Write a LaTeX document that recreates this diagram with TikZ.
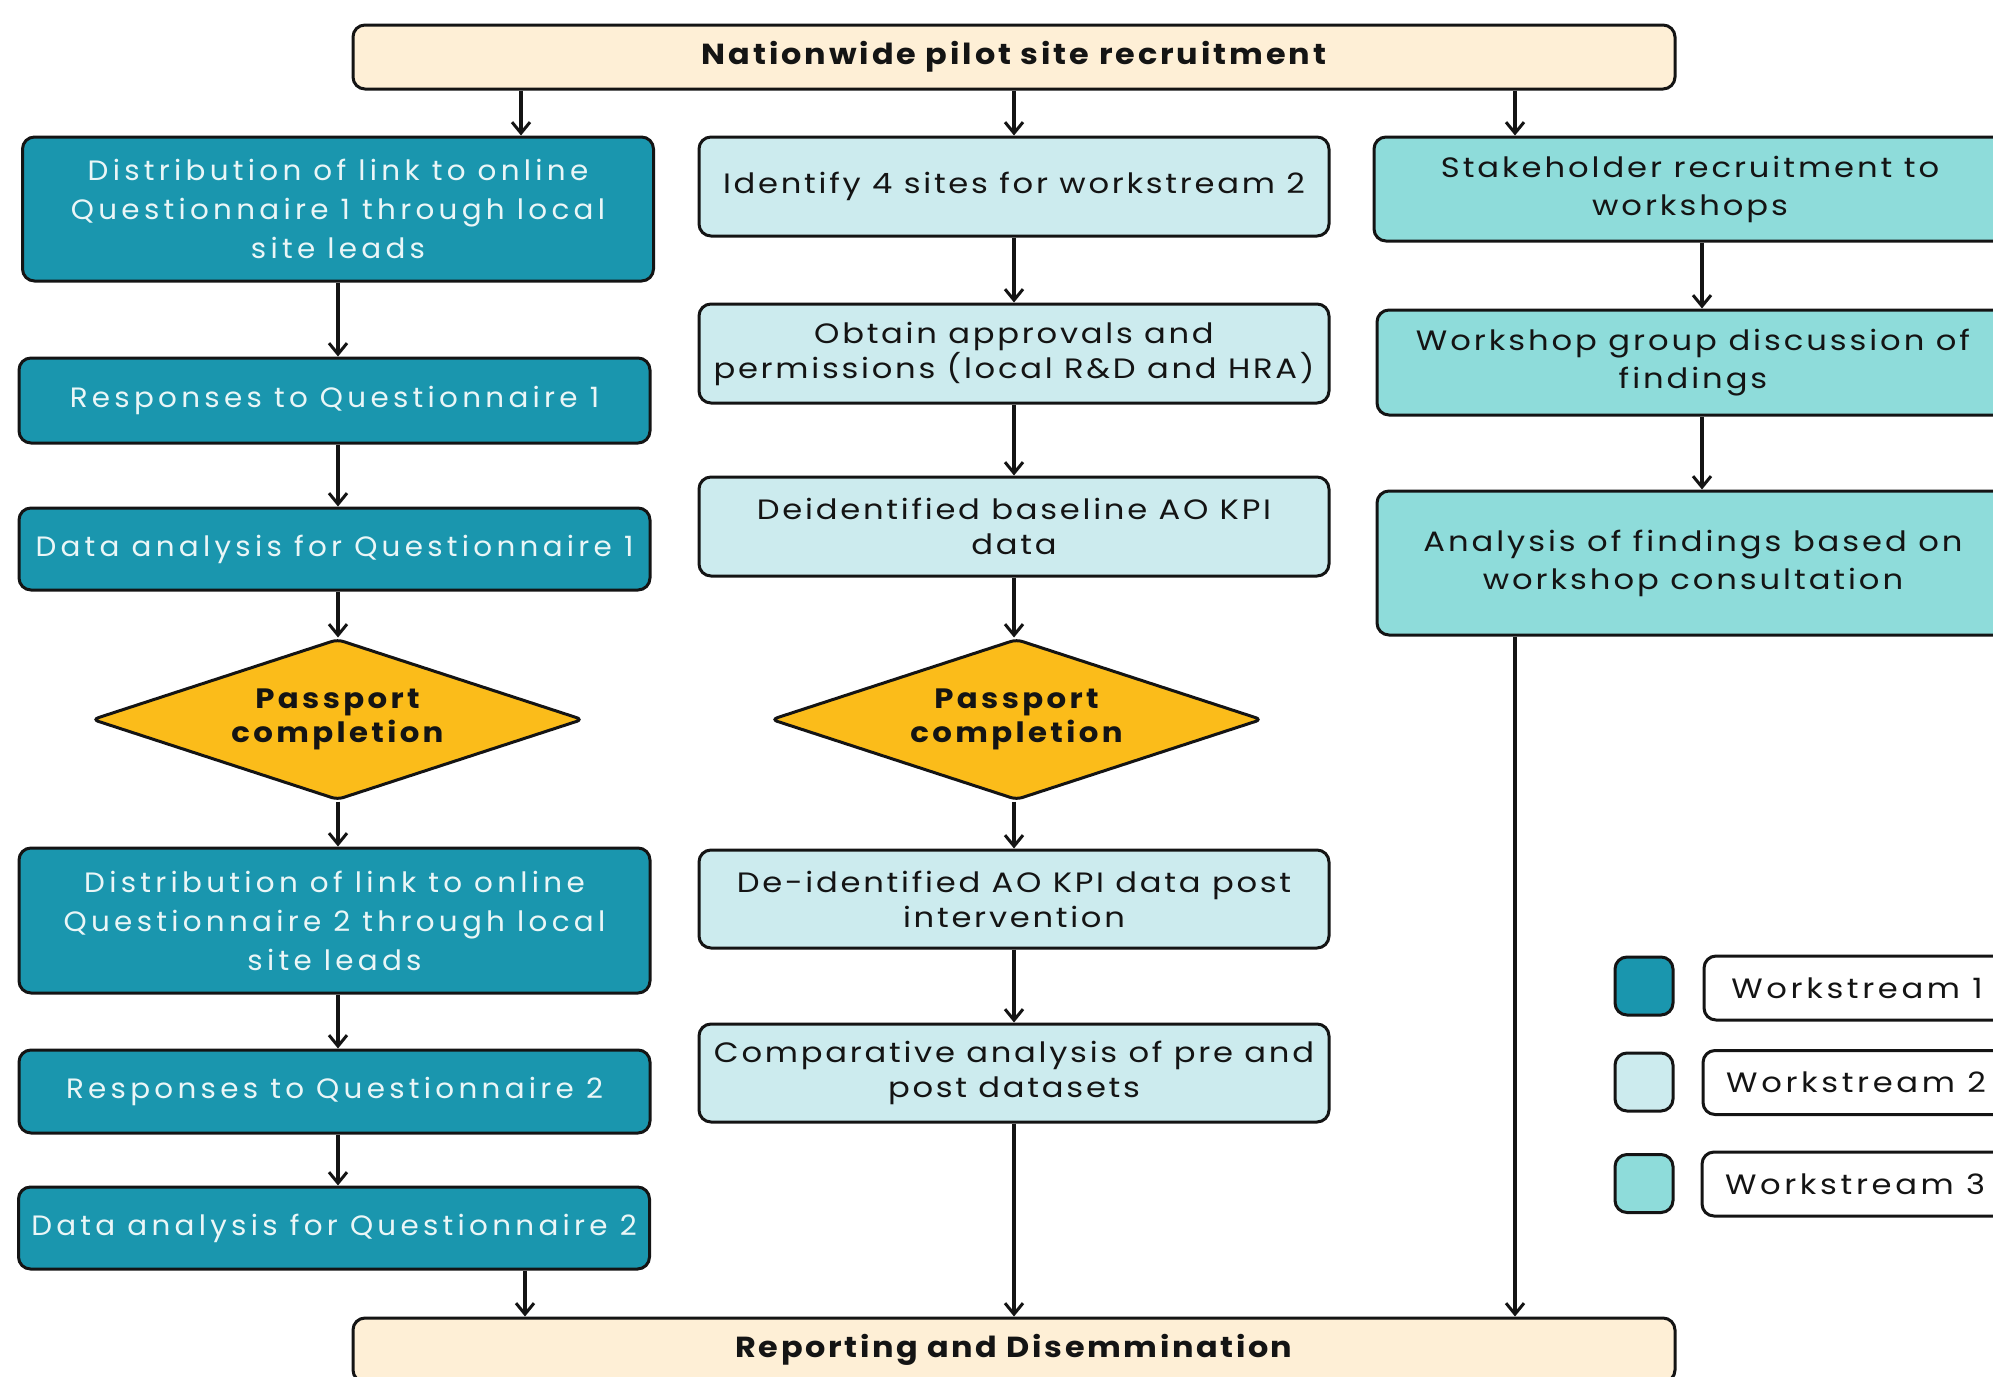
\documentclass[tikz,border=0pt]{standalone}
\usepackage{fontspec}
\setmainfont{Poppins}
\newfontfamily\wsafont[LetterSpace=15.3,FakeStretch=1.05]{Poppins}
\newfontfamily\wsbfont[LetterSpace=9.8,FakeStretch=1.15]{Poppins}
\newfontfamily\wscfont[LetterSpace=10.5,FakeStretch=1.15]{Poppins}
\newfontfamily\legfont[LetterSpace=13,FakeStretch=1.15]{Poppins}
\newfontfamily\hdfont[LetterSpace=10,FakeStretch=1.1]{Poppins}
\newfontfamily\btfont[LetterSpace=9,FakeStretch=1.1]{Poppins}
\newfontfamily\dcfont[LetterSpace=12,FakeStretch=1.1]{Poppins}
\usetikzlibrary{arrows.meta,shapes.geometric}
\definecolor{wsone}{HTML}{1A96AE}
\definecolor{wstwo}{HTML}{CCEBEE}
\definecolor{wsthree}{HTML}{8EDCDA}
\definecolor{cream}{HTML}{FEEFD6}
\definecolor{amber}{HTML}{FBBC1A}
\definecolor{edge}{HTML}{141414}
\definecolor{wtext}{HTML}{EAF6F7}
\tikzset{
  box/.style={draw=edge, line width=3pt, rounded corners=12pt, align=center, inner sep=0pt},
  wsonebox/.style={box, fill=wsone, text=wtext, minimum width=631pt, font=\wsafont\fontsize{28}{39}\selectfont},
  wstwobox/.style={box, fill=wstwo, text=edge, minimum width=630pt, minimum height=99pt, font=\wsbfont\fontsize{28}{35}\selectfont},
  wsthreebox/.style={box, fill=wsthree, text=edge, minimum width=632pt, font=\wscfont\fontsize{28}{38}\selectfont},
  endbox/.style={box, fill=cream, text=edge, minimum width=1322pt, minimum height=64pt},
  hdtext/.style={font=\hdfont\bfseries\fontsize{29}{33}\selectfont},
  bttext/.style={font=\btfont\bfseries\fontsize{29}{33}\selectfont},
  decbox/.style={draw=edge, line width=3pt, shape=diamond, fill=amber, rounded corners=6pt, inner sep=0pt, minimum width=491pt, minimum height=161pt},
  dectext/.style={align=center, text=edge, font=\dcfont\bfseries\fontsize{28}{34}\selectfont},
  swatch/.style={draw=edge, line width=3pt, rounded corners=12pt, minimum width=58pt, minimum height=58pt, inner sep=0pt},
  legbox/.style={draw=edge, line width=3pt, rounded corners=12pt, fill=white, minimum width=306pt, minimum height=64pt, inner sep=0pt, text=edge, font=\legfont\fontsize{28}{34}\selectfont},
  arr/.style={draw=edge, line width=3.2pt, -{Straight Barb[length=11pt,width=18pt,line width=3pt]}}
}
\begin{document}
\begin{tikzpicture}[x=1pt,y=-1pt]
\useasboundingbox (0,0) rectangle (1993,1376);
% top and bottom
\node[endbox, hdtext] (T) at (1014,57) {Nationwide pilot site recruitment};
\node[endbox, bttext] (B) at (1014,1350) {Reporting and Disemmination};
% workstream 1
\node[wsonebox, minimum height=144pt] (L1) at (338,209) {Distribution of link to online\\Questionnaire 1 through local\\site leads};
\node[wsonebox, minimum height=85pt] (L2) at (334.5,400.5) {Responses to Questionnaire 1};
\node[wsonebox, minimum height=82pt] (L3) at (334.5,549) {Data analysis for Questionnaire 1};
\node[decbox] (D1) at (337.5,719.5) {};
\node[dectext] (D1t) at (D1.center) {Passport\\completion};
\node[wsonebox, minimum height=145pt] (L4) at (334.5,920.5) {Distribution of link to online\\Questionnaire 2 through local\\site leads};
\node[wsonebox, minimum height=83pt] (L5) at (334.5,1091.5) {Responses to Questionnaire 2};
\node[wsonebox, minimum height=82pt] (L6) at (334,1228) {Data analysis for Questionnaire 2};
% workstream 2
\node[wstwobox] (M1) at (1014,186.5) {Identify 4 sites for workstream 2};
\node[wstwobox] (M2) at (1014,353.5) {Obtain approvals and\\permissions (local R\&D and HRA)};
\node[wstwobox] (M3) at (1014,526.5) {Deidentified baseline AO KPI\\data};
\node[decbox] (D2) at (1016.5,719.5) {};
\node[dectext] (D2t) at (D2.center) {Passport\\completion};
\node[wstwobox, minimum height=98pt] (M4) at (1014,899) {De-identified AO KPI data post\\intervention};
\node[wstwobox, minimum height=98pt] (M5) at (1014,1073) {Comparative analysis of pre and\\post datasets};
% workstream 3
\node[wsthreebox, minimum height=104pt] (R1) at (1690,189) {Stakeholder recruitment to\\workshops};
\node[wsthreebox, minimum height=105pt] (R2) at (1693,362.5) {Workshop group discussion of\\findings};
\node[wsthreebox, minimum height=144pt] (R3) at (1693,563) {Analysis of findings based on\\workshop consultation};
% legend
\node[swatch, fill=wsone] (S1) at (1644,986) {};
\node[swatch, fill=wstwo] (S2) at (1644,1082) {};
\node[swatch, fill=wsthree] (S3) at (1644,1183.5) {};
\node[legbox] (K1) at (1857,988) {Workstream 1};
\node[legbox] (K2) at (1856,1082.5) {Workstream 2};
\node[legbox] (K3) at (1855,1184) {Workstream 3};
% connector x positions
\coordinate (xa) at (521,0);
\coordinate (xb) at (1014,0);
\coordinate (xc) at (1515,0);
\coordinate (xd) at (525,0);
\coordinate (xe) at (1702,0);
\coordinate (xl) at (338,0);
% arrows
\draw[arr] (T.south -| xa) -- (L1.north -| xa);
\draw[arr] (T.south -| xb) -- (M1.north -| xb);
\draw[arr] (T.south -| xc) -- (R1.north -| xc);
\draw[arr] (L1.south -| xl) -- (L2.north -| xl);
\draw[arr] (L2.south -| xl) -- (L3.north -| xl);
\draw[arr] (L3.south -| xl) -- (D1.north -| xl);
\draw[arr] (D1.south -| xl) -- (L4.north -| xl);
\draw[arr] (L4.south -| xl) -- (L5.north -| xl);
\draw[arr] (L5.south -| xl) -- (L6.north -| xl);
\draw[arr] (L6.south -| xd) -- (B.north -| xd);
\draw[arr] (M1.south -| xb) -- (M2.north -| xb);
\draw[arr] (M2.south -| xb) -- (M3.north -| xb);
\draw[arr] (M3.south -| xb) -- (D2.north -| xb);
\draw[arr] (D2.south -| xb) -- (M4.north -| xb);
\draw[arr] (M4.south -| xb) -- (M5.north -| xb);
\draw[arr] (M5.south -| xb) -- (B.north -| xb);
\draw[arr] (R1.south -| xe) -- (R2.north -| xe);
\draw[arr] (R2.south -| xe) -- (R3.north -| xe);
\draw[arr] (R3.south -| xc) -- (B.north -| xc);
\end{tikzpicture}
\end{document}
